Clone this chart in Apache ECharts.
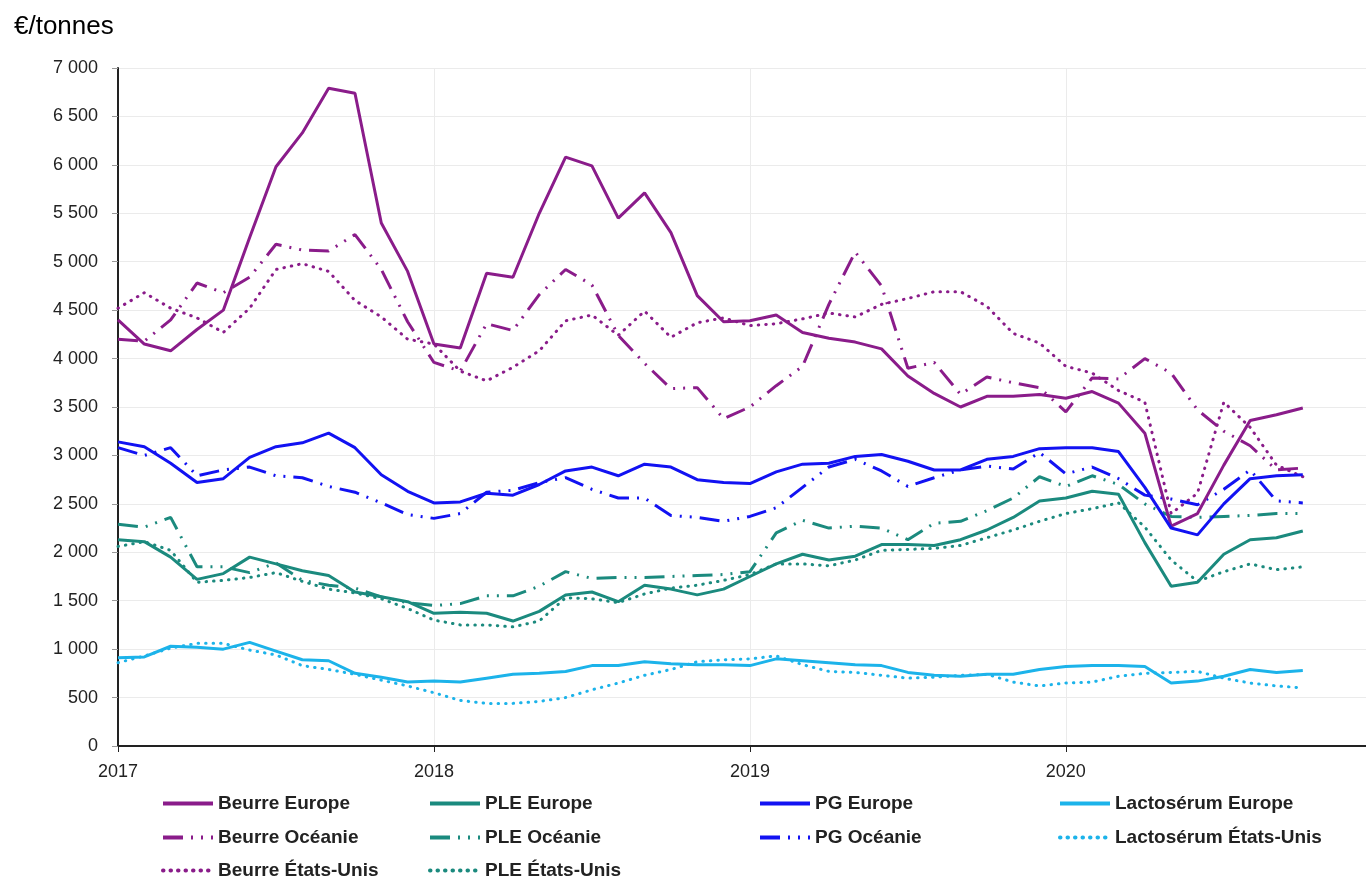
<!DOCTYPE html>
<html>
<head>
<meta charset="utf-8">
<script src="https://cdn.jsdelivr.net/npm/echarts@6/dist/echarts.min.js"></script>
<style>
  html, body { margin: 0; padding: 0; background: #fff; }
  #chart { width: 1366px; height: 881px; }
</style>
</head>
<body>
<div id="chart"></div>
<script>
// mois depuis janvier 2017 (0 = janv. 2017, 45 = oct. 2020)
const months = Array.from({ length: 46 }, (_, i) => i)
const years = [2017, 2018, 2019, 2020]

const beurreEurope = [4400, 4150, 4080, 4300, 4500, 5250, 5980, 6330, 6790, 6740, 5400, 4900, 4150, 4110, 4880, 4840, 5500, 6080, 5990, 5450, 5710, 5300, 4650, 4380, 4390, 4450, 4270, 4210, 4170, 4100, 3820, 3640, 3500, 3610, 3610, 3630, 3590, 3660, 3540, 3230, 2270, 2400, 2900, 3360, 3420, 3490]
const beurreOceanie = [4200, 4180, 4400, 4780, 4680, 4840, 5180, 5120, 5110, 5280, 4920, 4380, 3960, 3870, 4360, 4290, 4660, 4920, 4760, 4240, 3950, 3690, 3700, 3380, 3500, 3720, 3920, 4560, 5100, 4750, 3900, 3960, 3630, 3810, 3750, 3700, 3450, 3800, 3790, 4000, 3850, 3470, 3250, 3100, 2850, 2870]
const beurreUS = [4520, 4680, 4520, 4420, 4270, 4520, 4920, 4980, 4900, 4600, 4430, 4200, 4150, 3870, 3770, 3910, 4080, 4390, 4450, 4240, 4490, 4220, 4370, 4420, 4340, 4360, 4410, 4470, 4430, 4560, 4620, 4690, 4690, 4540, 4260, 4160, 3920, 3850, 3670, 3550, 2400, 2610, 3550, 3290, 2900, 2780]

const pleEurope = [2130, 2110, 1950, 1720, 1780, 1950, 1880, 1810, 1760, 1590, 1540, 1490, 1370, 1380, 1370, 1290, 1390, 1560, 1590, 1490, 1660, 1620, 1560, 1620, 1750, 1880, 1980, 1920, 1960, 2080, 2080, 2070, 2130, 2230, 2360, 2530, 2560, 2630, 2600, 2100, 1650, 1690, 1980, 2130, 2150, 2220]
const pleOceanie = [2290, 2260, 2360, 1850, 1850, 1790, 1890, 1710, 1660, 1630, 1540, 1480, 1450, 1470, 1550, 1550, 1650, 1800, 1730, 1740, 1740, 1750, 1760, 1770, 1800, 2200, 2330, 2250, 2270, 2250, 2130, 2300, 2320, 2430, 2560, 2780, 2680, 2790, 2700, 2500, 2370, 2360, 2370, 2380, 2400, 2400]
const pleUS = [2060, 2110, 2020, 1690, 1710, 1740, 1790, 1700, 1620, 1580, 1520, 1420, 1300, 1250, 1250, 1230, 1290, 1530, 1520, 1480, 1570, 1630, 1660, 1710, 1770, 1880, 1880, 1860, 1920, 2020, 2030, 2040, 2070, 2150, 2230, 2320, 2400, 2450, 2510, 2260, 1920, 1700, 1800, 1880, 1820, 1850]

const pgEurope = [3140, 3090, 2920, 2720, 2760, 2980, 3090, 3130, 3230, 3080, 2800, 2630, 2510, 2520, 2610, 2590, 2700, 2840, 2880, 2790, 2910, 2880, 2750, 2720, 2710, 2830, 2910, 2920, 2990, 3010, 2940, 2850, 2850, 2960, 2990, 3070, 3080, 3080, 3040, 2670, 2250, 2180, 2500, 2760, 2790, 2800]
const pgOceanie = [3080, 3000, 3080, 2790, 2850, 2880, 2790, 2770, 2680, 2620, 2510, 2390, 2350, 2400, 2620, 2640, 2720, 2770, 2650, 2560, 2560, 2380, 2360, 2320, 2370, 2460, 2670, 2880, 2960, 2840, 2680, 2770, 2850, 2890, 2860, 3030, 2810, 2880, 2760, 2590, 2550, 2490, 2650, 2850, 2530, 2510]

const lactoEurope = [910, 920, 1030, 1020, 1000, 1070, 980, 890, 880, 750, 710, 660, 670, 660, 700, 740, 750, 770, 830, 830, 870, 850, 840, 840, 830, 900, 880, 860, 840, 830, 760, 730, 720, 740, 740, 790, 820, 830, 830, 820, 650, 670, 720, 790, 760, 780]
const lactoUS = [860, 930, 1010, 1060, 1060, 990, 940, 830, 790, 740, 680, 620, 550, 470, 440, 440, 460, 500, 580, 650, 730, 790, 870, 890, 900, 930, 840, 770, 760, 730, 700, 710, 730, 740, 660, 620, 650, 660, 720, 750, 760, 770, 700, 650, 620, 600]

const PURPLE = '#8a1c8a'
const TEAL = '#1b8a7e'
const BLUE = '#1212f2'
const CYAN = '#1cb3ea'

const DASH_DOT = [20, 8, 2, 8, 2, 8]
const DOTS = [0.5, 7]
const FONT = 'Liberation Sans'

function line(name, values, color, kind) {
  const style = { color, width: 3 }
  if (kind === 'dashdot') { style.type = DASH_DOT; style.cap = 'butt' }
  if (kind === 'dot') { style.type = DOTS; style.cap = 'round' }
  return {
    name,
    type: 'line',
    data: months.map((m, i) => [m, values[i]]),
    symbol: 'none',
    smooth: false,
    color,
    lineStyle: style,
    z: kind === 'solid' ? 3 : 2,
  }
}

const fmt = (v) => String(v).replace(/\B(?=(\d{3})+(?!\d))/g, ' ')

// one legend per entry so the 4-column grid of the original is kept
function legendItem(name, left, cy) {
  return {
    left,
    top: cy - 9,
    padding: 0,
    itemWidth: 50,
    itemHeight: 14,
    data: [name],
    itemStyle: { color: 'transparent', borderWidth: 0, opacity: 0 },
    lineStyle: { width: 4 },
    textStyle: { fontFamily: FONT, fontSize: 19, fontWeight: 'bold', color: '#222' },
  }
}

const chart = echarts.init(document.getElementById('chart'))
chart.setOption({
  animation: false,
  backgroundColor: '#fff',
  title: {
    text: '€/tonnes',
    left: 9,
    top: 9,
    textStyle: { fontFamily: FONT, fontSize: 26, fontWeight: 'normal', color: '#000' },
  },
  grid: { left: 118, top: 68, right: 0, bottom: 135, containLabel: false },
  xAxis: {
    type: 'value',
    min: 0,
    max: 47.4,
    interval: 12,
    axisLine: { lineStyle: { color: '#222', width: 2 } },
    axisTick: { show: true, length: 6, lineStyle: { color: '#222' } },
    splitLine: { show: true, lineStyle: { color: '#ebebeb' } },
    axisLabel: {
      margin: 17,
      fontFamily: FONT,
      fontSize: 18,
      color: '#222',
      showMaxLabel: false,
      formatter: (v) => (v % 12 === 0 ? String(years[v / 12]) : ''),
    },
  },
  yAxis: {
    type: 'value',
    min: 0,
    max: 7000,
    interval: 500,
    axisLine: { show: true, lineStyle: { color: '#222', width: 2 } },
    axisTick: { show: true, length: 6, lineStyle: { color: '#999' } },
    splitLine: { lineStyle: { color: '#ebebeb' } },
    axisLabel: { margin: 20, fontFamily: FONT, fontSize: 18, color: '#222', formatter: fmt },
  },
  legend: [
    legendItem('Beurre Europe', 161, 803),
    legendItem('Beurre Océanie', 161, 837),
    legendItem('Beurre États-Unis', 161, 870),
    legendItem('PLE Europe', 428, 803),
    legendItem('PLE Océanie', 428, 837),
    legendItem('PLE États-Unis', 428, 870),
    legendItem('PG Europe', 758, 803),
    legendItem('PG Océanie', 758, 837),
    legendItem('Lactosérum Europe', 1058, 803),
    legendItem('Lactosérum États-Unis', 1058, 837),
  ],
  series: [
    line('Beurre Europe', beurreEurope, PURPLE, 'solid'),
    line('Beurre Océanie', beurreOceanie, PURPLE, 'dashdot'),
    line('Beurre États-Unis', beurreUS, PURPLE, 'dot'),
    line('PLE Europe', pleEurope, TEAL, 'solid'),
    line('PLE Océanie', pleOceanie, TEAL, 'dashdot'),
    line('PLE États-Unis', pleUS, TEAL, 'dot'),
    line('PG Europe', pgEurope, BLUE, 'solid'),
    line('PG Océanie', pgOceanie, BLUE, 'dashdot'),
    line('Lactosérum Europe', lactoEurope, CYAN, 'solid'),
    line('Lactosérum États-Unis', lactoUS, CYAN, 'dot'),
  ],
})
</script>
</body>
</html>
